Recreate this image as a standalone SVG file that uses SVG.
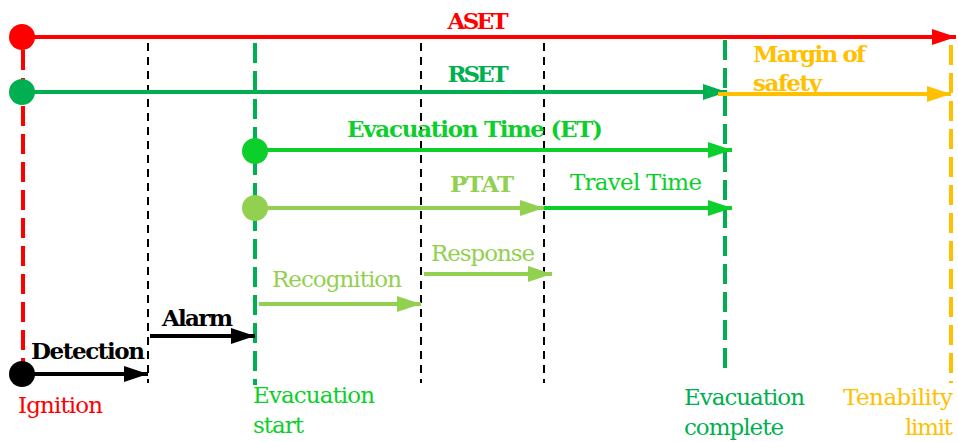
<svg xmlns="http://www.w3.org/2000/svg" width="958" height="442" viewBox="0 0 958 442">
<style>
text{font-family:'DejaVu Serif','Liberation Serif',serif;font-size:23px}
.b{font-weight:bold}
.ln{stroke-width:4;fill:none}
.vd{stroke-width:4;stroke-dasharray:20 8;fill:none}
.vk{stroke:#000;stroke-width:2;stroke-dasharray:8 6;fill:none}
.red{fill:#ff0000}.rs{fill:#00b050}.et{fill:#0ccf2b}.pt{fill:#92d050}.ye{fill:#ffc000}.bk{fill:#000}
</style>
<defs>
<marker id="aR" markerUnits="userSpaceOnUse" markerWidth="26" markerHeight="18" refX="24" refY="8" orient="auto"><path d="M0,0 L24,8 L0,16 Z" fill="#ff0000"/></marker>
<marker id="aG" markerUnits="userSpaceOnUse" markerWidth="26" markerHeight="18" refX="24" refY="8" orient="auto"><path d="M0,0 L24,8 L0,16 Z" fill="#00b050"/></marker>
<marker id="aE" markerUnits="userSpaceOnUse" markerWidth="26" markerHeight="18" refX="24" refY="8" orient="auto"><path d="M0,0 L24,8 L0,16 Z" fill="#0ccf2b"/></marker>
<marker id="aP" markerUnits="userSpaceOnUse" markerWidth="26" markerHeight="18" refX="24" refY="8" orient="auto"><path d="M0,0 L24,8 L0,16 Z" fill="#92d050"/></marker>
<marker id="aY" markerUnits="userSpaceOnUse" markerWidth="26" markerHeight="18" refX="24" refY="8" orient="auto"><path d="M0,0 L24,8 L0,16 Z" fill="#ffc000"/></marker>
<marker id="aK" markerUnits="userSpaceOnUse" markerWidth="26" markerHeight="18" refX="24" refY="8" orient="auto"><path d="M0,0 L24,8 L0,16 Z" fill="#000"/></marker>
<clipPath id="mclip"><rect x="740" y="30" width="160" height="62"/></clipPath>
</defs>

<g id="guides">
<line class="vd" x1="23" y1="50" x2="23" y2="362" stroke="#ff0000"/>
<line class="vk" x1="148" y1="43" x2="148" y2="383"/>
<line class="vd" x1="255" y1="43" x2="255" y2="385" stroke="#00b050"/>
<line class="vk" x1="421" y1="43" x2="421" y2="383"/>
<line class="vk" x1="544" y1="43" x2="544" y2="383"/>
<line class="vd" x1="725" y1="40" x2="725" y2="374" stroke="#00b050"/>
<line class="vd" x1="951" y1="45" x2="951" y2="383" stroke="#ffc000"/>
</g>

<g id="connectors">
<line class="ln" x1="22" y1="37" x2="956" y2="37" stroke="#ff0000" marker-end="url(#aR)"/>
<line class="ln" x1="22" y1="92" x2="727" y2="92" stroke="#00b050" marker-end="url(#aG)"/>
<line class="ln" x1="718" y1="94" x2="951" y2="94" stroke="#ffc000" marker-end="url(#aY)"/>
<line class="ln" x1="255" y1="150" x2="732" y2="150" stroke="#0ccf2b" marker-end="url(#aE)"/>
<line class="ln" x1="255" y1="208" x2="544" y2="208" stroke="#92d050" marker-end="url(#aP)"/>
<line class="ln" x1="544" y1="208" x2="732" y2="208" stroke="#0ccf2b" marker-end="url(#aE)"/>
<line class="ln" x1="259" y1="304" x2="421" y2="304" stroke="#92d050" marker-end="url(#aP)"/>
<line class="ln" x1="424" y1="274" x2="552" y2="274" stroke="#92d050" marker-end="url(#aP)"/>
<line class="ln" x1="150" y1="336" x2="255" y2="336" stroke="#000" marker-end="url(#aK)"/>
<line class="ln" x1="22" y1="374" x2="148" y2="374" stroke="#000" marker-end="url(#aK)"/>
</g>

<g id="ignition"><circle cx="22" cy="37" r="13" fill="#ff0000"/><circle cx="22" cy="374" r="13" fill="#000"/><text class="red" x="18" y="413" textLength="85">Ignition</text></g>
<g id="rset-start"><circle cx="22" cy="92" r="13" fill="#00b050"/></g>
<g id="et-start"><circle cx="255" cy="151" r="13" fill="#0ccf2b"/></g>
<g id="ptat-start"><circle cx="255" cy="208" r="13" fill="#92d050"/></g>

<g id="aset"><text class="b red" x="478" y="29" text-anchor="middle" textLength="61">ASET</text></g>
<g id="rset"><text class="b rs" x="478" y="82" text-anchor="middle" textLength="61">RSET</text></g>
<g id="margin"><g clip-path="url(#mclip)"><text class="b ye" x="753" y="62" textLength="113">Margin of</text><text class="b ye" x="753" y="91" textLength="69">safety</text></g></g>
<g id="et"><text class="b et" x="347" y="137" textLength="256">Evacuation Time (ET)</text></g>
<g id="ptat"><text class="b pt" x="450" y="192" textLength="64">PTAT</text></g>
<g id="travel"><text class="et" x="570" y="190" textLength="132">Travel Time</text></g>
<g id="recognition"><text class="pt" x="272" y="287" textLength="130">Recognition</text></g>
<g id="response"><text class="pt" x="431" y="261" textLength="104">Response</text></g>
<g id="alarm"><text class="b bk" x="162" y="326" textLength="71">Alarm</text></g>
<g id="detection"><text class="b bk" x="31" y="359" textLength="114">Detection</text></g>
<g id="evac-start"><text class="et" x="253" y="403" textLength="122">Evacuation</text><text class="et" x="253" y="433" textLength="51">start</text></g>
<g id="evac-complete"><text class="rs" x="684" y="405" textLength="121">Evacuation</text><text class="rs" x="684" y="435" textLength="100">complete</text></g>
<g id="tenability"><text class="ye" x="953" y="405" text-anchor="end" textLength="110">Tenability</text><text class="ye" x="953" y="435" text-anchor="end" textLength="48">limit</text></g>
</svg>
